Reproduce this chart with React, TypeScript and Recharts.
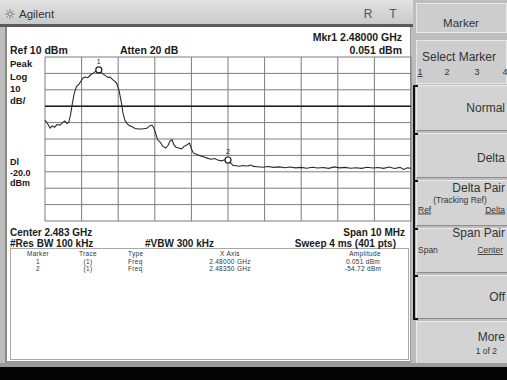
import React from 'react';
import { LineChart, Line, XAxis, YAxis, CartesianGrid, ReferenceLine, ReferenceDot } from 'recharts';

// Frequency offset from start (2.478 GHz), MHz
const freqMHz = [
  0.0, 0.08, 0.14, 0.2, 0.26, 0.33, 0.41, 0.48, 0.54, 0.6, 0.65, 0.7, 0.75, 0.8, 0.86, 0.93, 0.98,
  1.04, 1.1, 1.17, 1.24, 1.31, 1.38, 1.47, 1.54, 1.6, 1.66, 1.72, 1.78, 1.85, 1.92, 1.96, 2.02,
  2.08, 2.13, 2.18, 2.24, 2.3, 2.38, 2.46, 2.55, 2.65, 2.78, 2.86, 2.92, 2.97, 3.02, 3.08, 3.15,
  3.22, 3.3, 3.36, 3.42, 3.47, 3.52, 3.58, 3.65, 3.73, 3.8, 3.88, 3.95, 4.0, 4.05, 4.15, 4.25,
  4.35, 4.45, 4.55, 4.63, 4.72, 4.82, 4.92, 5.0, 5.07, 5.13, 5.22, 5.32, 5.4, 5.48, 5.55, 5.62,
  5.7, 5.8, 5.95, 6.1, 6.25, 6.4, 6.55, 6.7, 6.85, 7.0, 7.15, 7.3, 7.45, 7.6, 7.75, 7.9, 8.05,
  8.2, 8.35, 8.5, 8.65, 8.8, 8.95, 9.1, 9.25, 9.4, 9.55, 9.7, 9.8, 9.9, 10.0,
];
// Amplitude, dBm
const ampDbm = [
  -28.5, -31.0, -33.3, -32.0, -32.8, -31.2, -31.5, -30.0, -29.0, -30.5, -29.8, -25.0, -18.0, -12.0, -8.0, -6.5, -4.8,
  -2.8, -2.2, -2.6, -1.0, 0.0, 1.2, 2.1, 0.5, -0.6, -1.5, -2.4, -2.2, -3.8, -5.0, -6.2, -10.0,
  -17.0, -24.0, -28.5, -30.5, -31.8, -32.6, -33.6, -33.8, -33.9, -33.5, -32.0, -31.5, -33.0, -36.5, -40.5, -42.0,
  -44.5, -45.5, -44.0, -41.0, -40.5, -43.5, -45.0, -45.5, -46.0, -44.5, -43.5, -42.5, -46.0, -48.5, -49.5, -50.3,
  -51.0, -51.8, -52.3, -51.9, -52.8, -53.3, -52.7, -52.8, -54.5, -56.0, -56.3, -56.6, -56.2, -56.5, -56.4, -55.9,
  -56.7, -56.9, -57.2, -56.8, -57.3, -57.0, -57.5, -57.1, -57.6, -57.3, -57.8, -57.2, -57.7, -57.4, -57.9, -57.0, -57.6,
  -57.3, -57.8, -57.5, -57.9, -57.2, -57.7, -57.4, -57.9, -57.1, -58.0, -57.3, -58.6, -57.6, -57.8,
];

const xTicks = [0, 1, 2, 3, 4, 5, 6, 7, 8, 9, 10];
const yTicks = [-90, -80, -70, -60, -50, -40, -30, -20, -10, 0, 10];
const displayLine = -20;

const markerIds = ['1', '2'];
const markerFreq = [1.47, 5.0];
const markerAmp = [2.1, -52.8];

const tableHeaders = ['Marker', 'Trace', 'Type', 'X Axis', 'Amplitude'];
const tableMarker = ['1', '2'];
const tableTrace = ['(1)', '(1)'];
const tableType = ['Freq', 'Freq'];
const tableX = ['2.48000 GHz', '2.48350 GHz'];
const tableAmp = ['0.051 dBm', '-54.72 dBm'];

const data = freqMHz.map((f, i) => ({ f, a: ampDbm[i] }));

const FONT = '"Liberation Sans", Arial, sans-serif';

const Btn = ({ top, h }: { top: number; h: number }) => (
  <div
    style={{
      position: 'absolute',
      left: 416,
      top,
      width: 91,
      height: h,
      background: '#d3d3d3',
      borderTop: '1px solid #ececec',
      borderLeft: '1px solid #ececec',
      borderBottom: '1px solid #8e8e8e',
      boxSizing: 'border-box',
    }}
  />
);

export default function App() {
  const btnTops = [85, 133, 180, 228, 275];
  return (
    <div
      style={{
        position: 'absolute',
        left: 0,
        top: 0,
        width: 507,
        height: 380,
        overflow: 'hidden',
        background: '#bdbdbd',
        fontFamily: FONT,
      }}
    >
      {/* title bar */}
      <div
        style={{
          position: 'absolute',
          left: 0,
          top: 0,
          width: 413,
          height: 24,
          background: 'linear-gradient(#e2e2e2, #cacaca)',
          borderBottom: '3px solid #5a5a5a',
        }}
      />
      {/* screen */}
      <div
        style={{
          position: 'absolute',
          left: 5,
          top: 27,
          width: 406,
          height: 336,
          background: '#ffffff',
          borderLeft: '2px solid #8a8a8a',
          borderRight: '1px solid #9a9a9a',
          borderBottom: '2px solid #9a9a9a',
          boxSizing: 'border-box',
        }}
      />
      {/* table box */}
      <div
        style={{
          position: 'absolute',
          left: 10,
          top: 248,
          width: 399,
          height: 112,
          border: '1px solid #a8a8a8',
          boxSizing: 'border-box',
        }}
      />
      {/* softkeys */}
      <div
        style={{
          position: 'absolute',
          left: 416,
          top: 3,
          width: 91,
          height: 30,
          background: '#cdcdcd',
          border: '1px solid #e8e8e8',
          boxSizing: 'border-box',
        }}
      />
      <div
        style={{
          position: 'absolute',
          left: 416,
          top: 40,
          width: 91,
          height: 44,
          background: '#cdcdcd',
          border: '1px solid #e8e8e8',
          boxSizing: 'border-box',
        }}
      />
      <Btn top={85} h={46} />
      <Btn top={133} h={45} />
      <Btn top={180} h={46} />
      <Btn top={228} h={45} />
      <Btn top={275} h={44} />
      <Btn top={321} h={43} />
      {/* bracket */}
      <div style={{ position: 'absolute', left: 413, top: 85, width: 2, height: 234, background: '#111' }} />
      {btnTops.concat([318]).map((t) => (
        <div key={t} style={{ position: 'absolute', left: 413, top: t, width: 5, height: 2, background: '#111' }} />
      ))}
      {/* bottom */}
      <div style={{ position: 'absolute', left: 0, top: 363, width: 507, height: 4, background: '#9c9c9c' }} />
      <div style={{ position: 'absolute', left: 0, top: 367, width: 507, height: 13, background: '#050505' }} />

      <div style={{ position: 'absolute', left: 0, top: 0 }}>
        <LineChart
          width={507}
          height={380}
          data={data}
          margin={{ top: 57, right: 96, bottom: 159, left: 45 }}
        >
          <CartesianGrid stroke="#7c7c7c" strokeWidth={1} />
          <XAxis dataKey="f" type="number" domain={[0, 10]} ticks={xTicks} interval={0} hide />
          <YAxis type="number" domain={[-90, 10]} ticks={yTicks} interval={0} hide />
          <ReferenceLine y={displayLine} stroke="#1e1e1e" strokeWidth={1.6} />
          <Line
            dataKey="a"
            type="linear"
            stroke="#2a2a2a"
            strokeWidth={1.1}
            dot={false}
            isAnimationActive={false}
          />
          {markerIds.map((id, i) => (
            <ReferenceDot
              key={id}
              x={markerFreq[i]}
              y={markerAmp[i]}
              r={3}
              fill="#ffffff"
              stroke="#1e1e1e"
              strokeWidth={1.2}
              label={{ value: id, position: 'top', fontSize: 7, fill: '#222', offset: 3 }}
            />
          ))}
        </LineChart>
      </div>

      <svg
        width={507}
        height={380}
        style={{ position: 'absolute', left: 0, top: 0, pointerEvents: 'none' }}
        fontFamily={FONT}
      >
        {/* sun icon */}
        <g stroke="#8a8a8a" strokeWidth={1}>
          <line x1={5} y1={14} x2={15} y2={14} />
          <line x1={10} y1={9} x2={10} y2={19} />
          <line x1={6.5} y1={10.5} x2={13.5} y2={17.5} />
          <line x1={13.5} y1={10.5} x2={6.5} y2={17.5} />
        </g>
        <circle cx={10} cy={14} r={2} fill="#d8d8d8" stroke="#8a8a8a" />
        <text x={19} y={18} fontSize={11.5} fill="#333">Agilent</text>
        <text x={368} y={18} fontSize={12} fill="#555" textAnchor="middle">R</text>
        <text x={393} y={18} fontSize={12} fill="#555" textAnchor="middle">T</text>

        <g fontWeight="bold" fill="#1a1a1a">
          <text x={402} y={41} fontSize={10.5} textAnchor="end">Mkr1  2.48000 GHz</text>
          <text x={402} y={54} fontSize={10.5} textAnchor="end">0.051 dBm</text>
          <text x={10} y={54} fontSize={10.5}>Ref 10 dBm</text>
          <text x={120} y={54} fontSize={10.5}>Atten 20 dB</text>
          <text x={10} y={67} fontSize={9.5}>Peak</text>
          <text x={10} y={80} fontSize={9.5}>Log</text>
          <text x={10} y={92} fontSize={9.5}>10</text>
          <text x={10} y={103.5} fontSize={9.5}>dB/</text>
          <text x={10} y={165} fontSize={9}>Dl</text>
          <text x={10} y={175.5} fontSize={9}>-20.0</text>
          <text x={10} y={186} fontSize={9}>dBm</text>
          <text x={10} y={235.5} fontSize={10}>Center 2.483 GHz</text>
          <text x={405} y={235.5} fontSize={10} textAnchor="end">Span 10 MHz</text>
          <text x={10} y={247} fontSize={10}>#Res BW 100 kHz</text>
          <text x={145} y={247} fontSize={10}>#VBW 300 kHz</text>
          <text x={396} y={247} fontSize={10} textAnchor="end">Sweep 4 ms (401 pts)</text>
        </g>

        <g fontSize={6.5} fill="#333" letterSpacing={0.3}>
          <text x={38} y={256} textAnchor="middle">{tableHeaders[0]}</text>
          <text x={88} y={256} textAnchor="middle">{tableHeaders[1]}</text>
          <text x={128} y={256}>{tableHeaders[2]}</text>
          <text x={230} y={256} textAnchor="middle">{tableHeaders[3]}</text>
          <text x={365} y={256} textAnchor="middle">{tableHeaders[4]}</text>
          {tableMarker.map((m, i) => (
            <g key={m}>
              <text x={38} y={263.5 + i * 7.5} textAnchor="middle">{m}</text>
              <text x={88} y={263.5 + i * 7.5} textAnchor="middle">{tableTrace[i]}</text>
              <text x={128} y={263.5 + i * 7.5}>{tableType[i]}</text>
              <text x={230} y={263.5 + i * 7.5} textAnchor="middle">{tableX[i]}</text>
              <text x={363} y={263.5 + i * 7.5} textAnchor="middle">{tableAmp[i]}</text>
            </g>
          ))}
        </g>

        <g fill="#333">
          <text x={461} y={27} fontSize={11.5} textAnchor="middle">Marker</text>
          <text x={422} y={61} fontSize={12}>Select Marker</text>
          <text x={420} y={75} fontSize={9} textAnchor="middle" textDecoration="underline">1</text>
          <text x={447} y={75} fontSize={9} textAnchor="middle">2</text>
          <text x={477} y={75} fontSize={9} textAnchor="middle">3</text>
          <text x={505} y={75} fontSize={9} textAnchor="middle">4</text>
          <text x={505} y={112} fontSize={12} textAnchor="end">Normal</text>
          <text x={505} y={162} fontSize={12} textAnchor="end">Delta</text>
          <text x={505} y={192} fontSize={12} textAnchor="end">Delta Pair</text>
          <text x={460} y={202.5} fontSize={8.5} textAnchor="middle">(Tracking Ref)</text>
          <text x={418} y={212.5} fontSize={8.5} textDecoration="underline">Ref</text>
          <text x={505} y={212.5} fontSize={8.5} textAnchor="end" textDecoration="underline">Delta</text>
          <text x={505} y={237} fontSize={12} textAnchor="end">Span Pair</text>
          <text x={418} y={253} fontSize={8.5}>Span</text>
          <text x={503} y={253} fontSize={8.5} textAnchor="end" textDecoration="underline">Center</text>
          <text x={505} y={301} fontSize={12} textAnchor="end">Off</text>
          <text x={505} y={341} fontSize={12} textAnchor="end">More</text>
          <text x={497} y={354} fontSize={8.5} textAnchor="end">1 of 2</text>
        </g>
      </svg>
    </div>
  );
}
